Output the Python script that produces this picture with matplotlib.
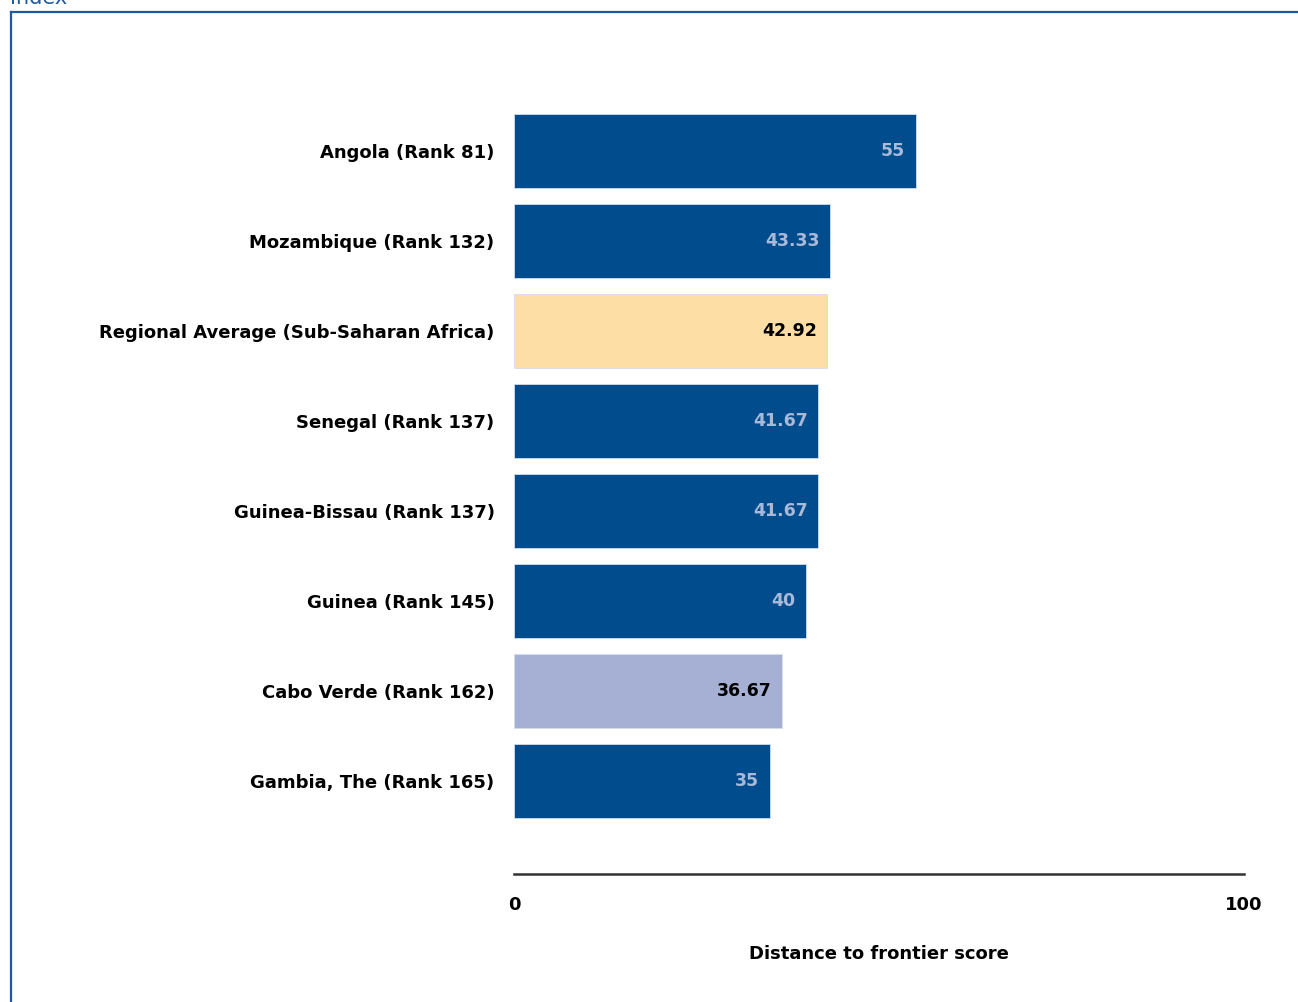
import matplotlib.pyplot as plt
from matplotlib.lines import Line2D

# Data
COUNTRIES = [
    "Angola (Rank 81)",
    "Mozambique (Rank 132)",
    "Regional Average (Sub-Saharan Africa)",
    "Senegal (Rank 137)",
    "Guinea-Bissau (Rank 137)",
    "Guinea (Rank 145)",
    "Cabo Verde (Rank 162)",
    "Gambia, The (Rank 165)",
]
SCORES = [55, 43.33, 42.92, 41.67, 41.67, 40, 36.67, 35]
VALUE_LABELS = ["55", "43.33", "42.92", "41.67", "41.67", "40", "36.67", "35"]
KINDS = ["peer", "peer", "region", "peer", "peer", "peer", "focus", "peer"]

DARK_BLUE = "#004C8C"
COLORS = {"peer": DARK_BLUE, "region": "#FDDFA6", "focus": "#A5B0D4"}
LABEL_COLORS = {"peer": "#A9B9D9", "region": "black", "focus": "black"}
FRAME_BLUE = "#1F5A9E"

W, H = 1298, 1002
fig = plt.figure(figsize=(W / 100, H / 100), dpi=100)

# frame lines and cut-off heading
fig.add_artist(Line2D([11 / W, 1.0], [1 - 12 / H, 1 - 12 / H], color=FRAME_BLUE, lw=1.6))
fig.add_artist(Line2D([11 / W, 11 / W], [0, 1 - 12 / H], color=FRAME_BLUE, lw=1.6))
fig.text(10 / W, 1 - 8 / H, "Index", color=FRAME_BLUE, fontsize=15, va="bottom", ha="left")

left, right = 514 / W, 1244 / W
top_px, bottom_px = 106, 874
ax = fig.add_axes([left, 1 - bottom_px / H, right - left, (bottom_px - top_px) / H])

y = list(range(len(COUNTRIES)))
colors = [COLORS[k] for k in KINDS]
ax.barh(y, SCORES, height=0.82, color=colors, edgecolor="#D5DCEB", linewidth=0.6)

for yi, score, lab, kind in zip(y, SCORES, VALUE_LABELS, KINDS):
    ax.text(score - 1.4, yi, lab, ha="right", va="center", fontsize=12.5,
            fontweight="bold", color=LABEL_COLORS[kind])

ax.set_xlim(0, 100)
ax.set_ylim(8.033, -0.5)
ax.set_yticks(y)
ax.set_yticklabels(COUNTRIES, fontsize=13, fontweight="bold")
ax.tick_params(axis="y", length=0, pad=14)
ax.set_xticks([0, 100])
ax.set_xticklabels(["0", "100"], fontsize=13, fontweight="bold")
ax.tick_params(axis="x", length=0, pad=16)
ax.set_xlabel("Distance to frontier score", fontsize=13, fontweight="bold", labelpad=22)

for side in ["top", "right", "left"]:
    ax.spines[side].set_visible(False)
ax.spines["bottom"].set_color("#333333")
ax.spines["bottom"].set_linewidth(1.8)

fig.savefig("out.png", dpi=100)
